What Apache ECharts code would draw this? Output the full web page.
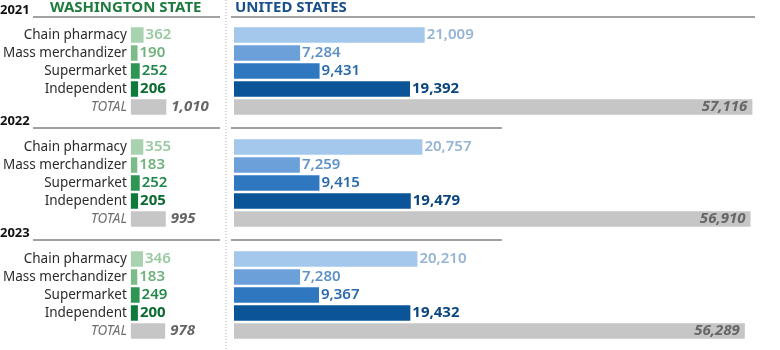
<!DOCTYPE html>
<html><head><meta charset="utf-8">
<script src="https://cdn.jsdelivr.net/npm/echarts@6/dist/echarts.min.js"></script>
<style>html,body{margin:0;padding:0;background:#fff}#c{width:780px;height:350px}</style>
</head><body><div id="c"></div>
<script>
const categories = ['Chain pharmacy', 'Mass merchandizer', 'Supermarket', 'Independent', 'TOTAL'];
const years = ['2021', '2022', '2023'];
const wa2021 = [362, 190, 252, 206, 1010];
const wa2022 = [355, 183, 252, 205, 995];
const wa2023 = [346, 183, 249, 200, 978];
const us2021 = [21009, 7284, 9431, 19392, 57116];
const us2022 = [20757, 7259, 9415, 19479, 56910];
const us2023 = [20210, 7280, 9367, 19432, 56289];

const waBar = ['#a9d3b0', '#7dbb88', '#2f9552', '#0e7a3a', '#c6c6c6'];
const waTxt = ['#98c9a1', '#6fb27c', '#23874a', '#0b6a31', '#666666'];
const usBar = ['#a3c8ec', '#6ba1d8', '#2f78bf', '#0a5497', '#c6c6c6'];
const usTxt = ['#94b4d6', '#5f93c8', '#2a6aab', '#0b4580', '#666666'];

const waData = [wa2021, wa2022, wa2023];
const usData = [us2021, us2022, us2023];

const FONT = 'Noto Sans';
const fmt = v => String(v).replace(/\B(?=(\d{3})+(?!\d))/g, ',');

const rowTops = [26, 138, 250];
const grids = [], xAxes = [], yAxes = [], series = [];
rowTops.forEach((top, g) => {
  grids.push({left: 130, top: top, width: 90, height: 90});
  grids.push({left: 234, top: top, width: 540, height: 90});
  [0, 1].forEach(p => {
    const idx = g * 2 + p;
    xAxes.push({type: 'value', gridIndex: idx, min: 0, max: p === 0 ? 2540 : 59500, show: false});
    yAxes.push({
      type: 'category', gridIndex: idx, data: categories, inverse: true,
      axisLine: {show: false}, axisTick: {show: false}, splitLine: {show: false},
      axisLabel: p === 0 ? {
        show: true, interval: 0, hideOverlap: false, margin: 4, fontFamily: FONT, fontSize: 13.5, color: '#2b2b2b',
        formatter: v => v === 'TOTAL' ? '{t|TOTAL}' : v,
        rich: {t: {fontStyle: 'italic', color: '#707070', fontFamily: FONT, fontSize: 13.5}}
      } : {show: false}
    });
    const vals = p === 0 ? waData[g] : usData[g];
    const bc = p === 0 ? waBar : usBar;
    const tc = p === 0 ? waTxt : usTxt;
    series.push({
      type: 'bar', xAxisIndex: idx, yAxisIndex: idx, barWidth: 15.5,
      animation: false,
      data: vals.map((v, i) => ({
        value: v,
        itemStyle: {color: bc[i]},
        label: {
          show: true,
          position: (p === 1 && i === 4) ? 'insideRight' : 'right',
          distance: (i === 4) ? 5 : 2,
          color: tc[i],
          fontFamily: FONT,
          fontSize: 15,
          fontWeight: (i === 3 || i === 4) ? 'bold' : 600,
          fontStyle: i === 4 ? 'italic' : 'normal',
          formatter: () => fmt(v)
        }
      }))
    });
  });
});

const graphic = [];
graphic.push({type: 'line', shape: {x1: 226, y1: 0, x2: 226, y2: 350},
  style: {stroke: '#b0b0b0', lineWidth: 1, lineDash: [1, 2]}});
graphic.push({type: 'text', left: 50, top: 0, style: {text: 'WASHINGTON STATE', fill: '#1e7b3e', font: 'bold 15px "Noto Sans"'}});
graphic.push({type: 'text', left: 235, top: 0, style: {text: 'UNITED STATES', fill: '#1a4f8b', font: 'bold 15px "Noto Sans"'}});
const lineYs = [17, 128, 240];
const rightEnds = [755, 502, 502];
years.forEach((y, i) => {
  graphic.push({type: 'text', left: 0, top: lineYs[i] - 13, style: {text: y, fill: '#111', font: 'bold 13px "Noto Sans"'}});
  graphic.push({type: 'line', shape: {x1: 33, y1: lineYs[i], x2: 220, y2: lineYs[i]}, style: {stroke: '#444', lineWidth: 1}});
  graphic.push({type: 'line', shape: {x1: 231, y1: lineYs[i], x2: rightEnds[i], y2: lineYs[i]}, style: {stroke: '#444', lineWidth: 1}});
});

const chart = echarts.init(document.getElementById('c'), null, {renderer: 'canvas'});
chart.setOption({animation: false, grid: grids, xAxis: xAxes, yAxis: yAxes, series: series, graphic: graphic});
</script>
</body></html>
